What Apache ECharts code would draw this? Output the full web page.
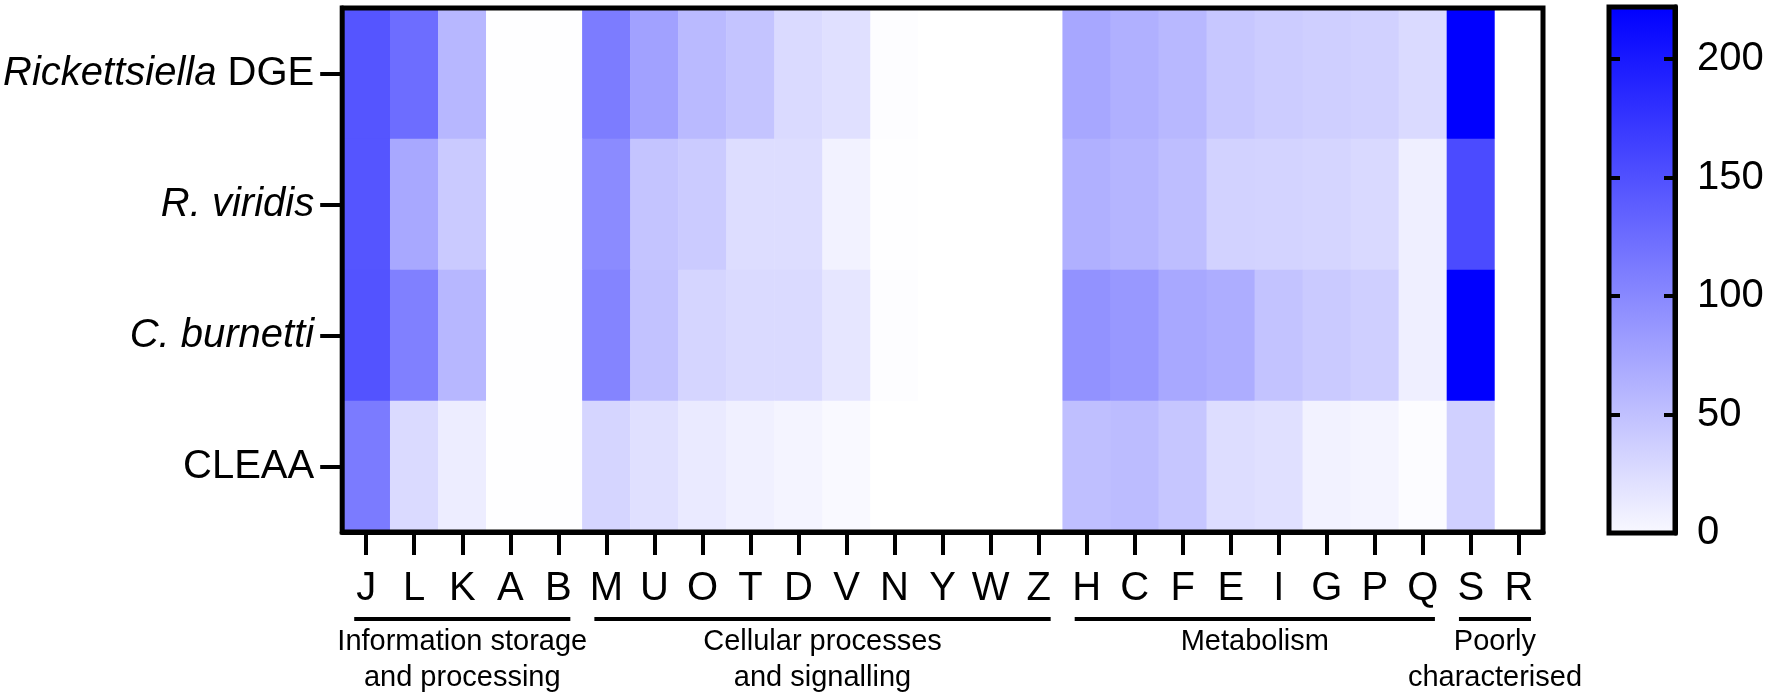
<!DOCTYPE html>
<html>
<head>
<meta charset="utf-8">
<script src="https://cdn.jsdelivr.net/npm/echarts@6/dist/echarts.min.js"></script>
<style>
  html, body { margin: 0; padding: 0; background: #fff; }
  #heat { width: 1772px; height: 694px; }
</style>
</head>
<body>
<div id="heat"></div>
<script>
// COG categories along the x axis
var cogs = ['J', 'L', 'K', 'A', 'B', 'M', 'U', 'O', 'T', 'D', 'V', 'N', 'Y', 'W', 'Z',
            'H', 'C', 'F', 'E', 'I', 'G', 'P', 'Q', 'S', 'R'];
var genomes = ['Rickettsiella DGE', 'R. viridis', 'C. burnetti', 'CLEAA'];

// counts per COG, one array per genome
var rickettsiellaDGE = [148, 127, 63, 1, 1, 114, 82, 60, 51, 32, 27, 2, 0, 0, 0, 77, 69, 62, 49, 44, 42, 40, 32, 230, 0];
var rViridis         = [148, 76, 46, 1, 1, 101, 51, 45, 30, 30, 11, 1, 0, 0, 0, 69, 64, 57, 39, 38, 37, 33, 14, 157, 0];
var cBurnetti        = [150, 111, 63, 1, 1, 107, 53, 37, 32, 32, 22, 2, 0, 0, 0, 95, 90, 76, 71, 52, 46, 42, 14, 228, 0];
var cleaa            = [115, 32, 16, 1, 1, 37, 27, 18, 13, 10, 5, 0, 0, 0, 0, 56, 58, 50, 30, 27, 11, 10, 3, 41, 0];

// functional groups under the axis: first COG, last COG, label
var groupNames = ['Information storage\nand processing', 'Cellular processes\nand signalling', 'Metabolism', 'Poorly\ncharacterised'];
var groupStart = ['J', 'M', 'H', 'S'];
var groupEnd   = ['B', 'Z', 'Q', 'R'];

var scaleMax = 222;
var scaleTicks = [0, 50, 100, 150, 200];

var rows = [rickettsiellaDGE, rViridis, cBurnetti, cleaa];
var cells = [];
for (var r = 0; r < rows.length; r++) {
    for (var c = 0; c < cogs.length; c++) {
        cells.push([c, r, rows[r][c]]);
    }
}

var FONT = "'Liberation Sans', Arial, Helvetica, sans-serif";
var blackLine = { show: true, lineStyle: { color: '#000', width: 5 } };

// tick-only axis for the colour bar, moved inside the bar so its ticks sit over the gradient
function barTickAxis(side) {
    return {
        type: 'value',
        gridIndex: 1,
        position: side,
        offset: -11,
        z: 10,
        min: 0,
        max: scaleMax,
        interval: 50,
        axisLine: { show: false },
        axisTick: { show: true, length: 10, lineStyle: { color: '#000', width: 4 } },
        axisLabel: { show: false },
        splitLine: { show: false }
    };
}

var chart = echarts.init(document.getElementById('heat'));

var option = {
    backgroundColor: '#ffffff',
    animation: false,
    textStyle: { fontFamily: FONT, color: '#000' },
    grid: [
        { left: 339, right: 229, top: 8, bottom: 162, show: true, borderColor: '#000', borderWidth: 5, z: 5 },
        { left: 1609, right: 97, top: 7, bottom: 161, show: true, borderColor: '#000', borderWidth: 5, z: 5 }
    ],
    xAxis: [{
        type: 'category',
        gridIndex: 0,
        data: cogs,
        axisLine: blackLine,
        axisTick: { show: true, alignWithLabel: true, length: 23, lineStyle: { color: '#000', width: 4 } },
        axisLabel: { interval: 0, margin: 37, fontSize: 40, color: '#000', fontFamily: FONT },
        splitLine: { show: false }
    }, {
        type: 'category',
        gridIndex: 1,
        data: [''],
        show: false
    }],
    yAxis: [{
        type: 'category',
        gridIndex: 0,
        data: genomes,
        inverse: true,
        axisLine: blackLine,
        axisTick: { show: true, alignWithLabel: true, length: 22, lineStyle: { color: '#000', width: 4 } },
        axisLabel: {
            margin: 28,
            fontSize: 40,
            color: '#000',
            fontFamily: FONT,
            formatter: function (v) {
                if (v === 'Rickettsiella DGE') return '{i|Rickettsiella} DGE';
                if (v === 'CLEAA') return v;
                return '{i|' + v + '}';
            },
            rich: { i: { fontStyle: 'italic', fontSize: 40, fontFamily: FONT, color: '#000' } }
        }
    }, {
        // colour bar scale, labelled on the right
        type: 'value',
        gridIndex: 1,
        position: 'right',
        min: 0,
        max: scaleMax,
        interval: 50,
        axisLine: blackLine,
        axisTick: { show: false },
        axisLabel: {
            margin: 22, fontSize: 40, color: '#000', fontFamily: FONT, showMaxLabel: false,
            formatter: function (v) { return scaleTicks.indexOf(v) >= 0 ? String(v) : ''; }
        },
        splitLine: { show: false }
    }, barTickAxis('right'), barTickAxis('left')],
    visualMap: {
        show: false,
        seriesIndex: 0,
        dimension: 2,
        min: 0,
        max: scaleMax,
        inRange: { color: ['#ffffff', '#0000ff'] }
    },
    series: [{
        type: 'heatmap',
        xAxisIndex: 0,
        yAxisIndex: 0,
        data: cells,
        itemStyle: { borderWidth: 0 },
        emphasis: { disabled: true }
    }, {
        type: 'bar',
        xAxisIndex: 1,
        yAxisIndex: 1,
        data: [scaleMax],
        barWidth: '100%',
        silent: true,
        itemStyle: {
            color: new echarts.graphic.LinearGradient(0, 0, 0, 1, [
                { offset: 0, color: '#0000ff' },
                { offset: 1, color: '#f8f8ff' }
            ])
        }
    }]
};
chart.setOption(option);

// group brackets under the x axis, placed from the category positions
function drawGroups() {
    var g = [];
    var lineY = 619;
    for (var i = 0; i < groupNames.length; i++) {
        var x1 = chart.convertToPixel({ xAxisIndex: 0 }, groupStart[i]) - 12;
        var x2 = chart.convertToPixel({ xAxisIndex: 0 }, groupEnd[i]) + 12;
        g.push({
            type: 'line',
            shape: { x1: x1, y1: lineY, x2: x2, y2: lineY },
            style: { stroke: '#000', lineWidth: 4 },
            silent: true
        });
        g.push({
            type: 'text',
            x: (x1 + x2) / 2,
            y: 624,
            style: {
                text: groupNames[i],
                align: 'center',
                verticalAlign: 'top',
                fontSize: 29,
                lineHeight: 36,
                fontFamily: FONT,
                fill: '#000'
            },
            silent: true
        });
    }
    chart.setOption({ graphic: g });
}
drawGroups();

window.onresize = function () {
    chart.resize();
    drawGroups();
};
</script>
</body>
</html>
